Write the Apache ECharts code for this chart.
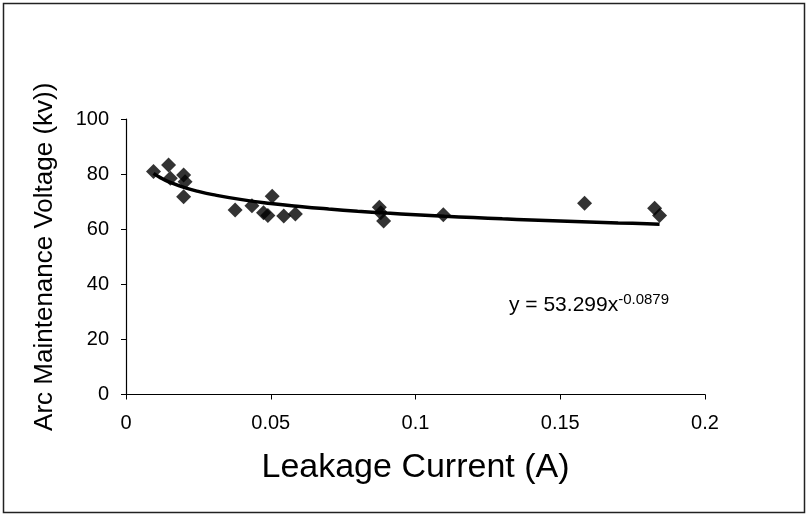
<!DOCTYPE html>
<html><head><meta charset="utf-8">
<script src="https://cdn.jsdelivr.net/npm/echarts@6/dist/echarts.min.js"></script>
<style>html,body{margin:0;padding:0;background:#fff}#c{width:806px;height:516px}</style>
</head><body><div id="c"></div>
<script>
// Measured data (Leakage current A, Arc maintenance voltage kV)
const currents = [0.0095,0.0147,0.0153,0.0199,0.0204,0.0199,0.0377,0.0435,0.0475,0.049,0.0505,0.0545,0.0585,0.0875,0.088,0.089,0.1096,0.1584,0.1826,0.1843];
const voltages = [80.9,83.3,78.5,79.7,77.2,71.8,67.0,68.5,66.0,65.0,72.0,64.8,65.5,68.0,66.0,63.0,65.2,69.4,67.6,65.0];
const xTicks = [0,0.05,0.1,0.15,0.2];
const yTicks = [0,20,40,60,80,100];
// Power trendline coefficients shown on the chart
const trendA = 53.299, trendB = -0.0879;
const trendXs = [0.0095,0.012,0.015,0.02,0.025,0.03,0.04,0.05,0.06,0.07,0.08,0.09,0.1,0.11,0.12,0.13,0.14,0.15,0.16,0.17,0.18,0.1843];

const pts = currents.map((x,i)=>[x,voltages[i]]);
const trend = trendXs.map(x=>[x, trendA*Math.pow(x,trendB)]);
const chart = echarts.init(document.getElementById('c'));
const font = 'Liberation Sans, Arial, sans-serif';
chart.setOption({
  animation:false,
  backgroundColor:'#fff',
  graphic:[{type:'rect',shape:{x:3.5,y:3.5,width:801,height:509},style:{fill:'none',stroke:'#222',lineWidth:1.5}},
    {type:'text',left:509,top:292,style:{rich:{n:{fontSize:21,fontFamily:font,fill:'#000'},s:{fontSize:15,fontFamily:font,fill:'#000',verticalAlign:'top',padding:[0,0,12,0]}},text:'{n|y = '+trendA+'x}{s|'+trendB+'}'}}],
  grid:{left:126,top:119,width:579,height:275.5},
  xAxis:{type:'value',min:0,max:0.2,interval:0.05,
    name:'Leakage Current (A)',nameLocation:'middle',nameGap:56,
    nameTextStyle:{fontSize:34,fontFamily:font,color:'#000'},
    axisLine:{lineStyle:{color:'#000',width:1.2}},
    axisTick:{show:true,length:5,lineStyle:{color:'#000'}},
    axisLabel:{fontSize:20,fontFamily:font,color:'#000',margin:19,formatter:v=>String(+v.toFixed(2))},
    splitLine:{show:false}},
  yAxis:{type:'value',min:0,max:100,interval:20,
    name:'Arc Maintenance Voltage (kv))',nameLocation:'middle',nameGap:68,
    nameTextStyle:{fontSize:26,fontFamily:font,color:'#000'},
    axisLine:{show:true,lineStyle:{color:'#000',width:1.2}},
    axisTick:{show:true,length:5,lineStyle:{color:'#000'}},
    axisLabel:{fontSize:20,fontFamily:font,color:'#000',margin:17},
    splitLine:{show:false}},
  series:[
    {type:'line',data:trend,smooth:true,symbol:'none',lineStyle:{color:'#000',width:3.5},z:2},
    {type:'scatter',data:pts,symbol:'diamond',symbolSize:[15,15],itemStyle:{color:'#000'},z:3}
  ]
});
</script></body></html>
